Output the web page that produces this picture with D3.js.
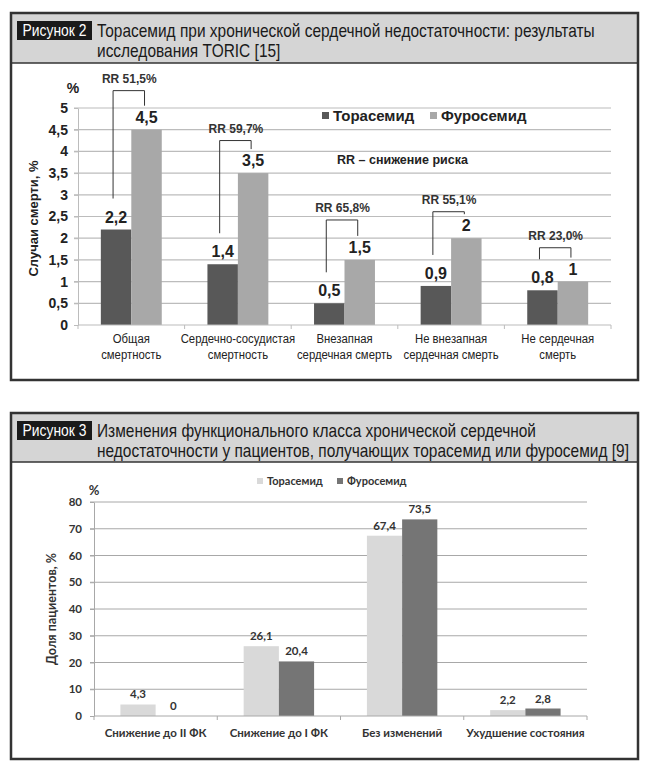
<!DOCTYPE html>
<html>
<head>
<meta charset="utf-8">
<script src="https://cdn.jsdelivr.net/npm/d3@7"></script>
<style>
  html, body { margin: 0; padding: 0; background: #fff; }
</style>
</head>
<body>
<div id="chart"></div>
<script>
// ---- Рисунок 2: TORIC ----
const cats1 = [
  ['Общая', 'смертность'],
  ['Сердечно-сосудистая', 'смертность'],
  ['Внезапная', 'сердечная смерть'],
  ['Не внезапная', 'сердечная смерть'],
  ['Не сердечная', 'смерть']
];
const series1 = ['Торасемид', 'Фуросемид'];
const torasemid1 = [2.2, 1.4, 0.5, 0.9, 0.8];
const furosemid1 = [4.5, 3.5, 1.5, 2, 1];
const rrLabels = ['RR 51,5%', 'RR 59,7%', 'RR 65,8%', 'RR 55,1%', 'RR 23,0%'];
const rrLevel = [5.4, 4.25, 2.42, 2.61, 1.78]; // bracket top, chart units
const yTicks1 = [0, 0.5, 1, 1.5, 2, 2.5, 3, 3.5, 4, 4.5, 5];

// ---- Рисунок 3: функциональный класс ----
const cats2 = ['Снижение до II ФК', 'Снижение до I ФК', 'Без изменений', 'Ухудшение состояния'];
const series2 = ['Торасемид', 'Фуросемид'];
const torasemid2 = [4.3, 26.1, 67.4, 2.2];
const furosemid2 = [0, 20.4, 73.5, 2.8];
const yTicks2 = [0, 10, 20, 30, 40, 50, 60, 70, 80];

const W = 647, H = 770;
const arial = "'Liberation Sans', Arial, sans-serif";
const calibri = "Lato, 'Open Sans', sans-serif";
const comma = d => String(d).replace('.', ',');

// no condensed face installed: squeeze Arial horizontally instead
function squeeze(sel, k) {
  sel.each(function () {
    const t = d3.select(this);
    const x = +t.attr('x') || 0, y = +t.attr('y') || 0;
    t.attr('x', 0).attr('y', 0).attr('transform', `translate(${x},${y}) scale(${k},1)`);
  });
}

const svg = d3.select('#chart').append('svg')
  .attr('width', W).attr('height', H)
  .attr('viewBox', `0 0 ${W} ${H}`);

/**
 * Frame, grey header band, black "Рисунок N" tag and title lines.
 */
function drawPanel(top, bottom, headBottom, tag, lines) {
  const g = svg.append('g').attr('font-family', arial);
  g.append('rect')
    .attr('x', 11).attr('y', top).attr('width', 627).attr('height', headBottom - top)
    .attr('fill', '#d5d5d5');
  g.append('line')
    .attr('x1', 11).attr('x2', 638).attr('y1', headBottom).attr('y2', headBottom)
    .attr('stroke', '#333').attr('stroke-width', 1.5);
  g.append('rect')
    .attr('x', 11).attr('y', top).attr('width', 627).attr('height', bottom - top)
    .attr('fill', 'none').attr('stroke', '#333').attr('stroke-width', 2.5);
  g.append('rect')
    .attr('x', 17).attr('y', top + 8).attr('width', 75).attr('height', 19)
    .attr('fill', '#1a1a1a');
  g.append('text')
    .attr('x', 54.5).attr('y', top + 23)
    .attr('text-anchor', 'middle')
    .attr('fill', '#fff').attr('font-size', 16.5)
    .text(tag)
    .call(squeeze, 0.84);
  g.selectAll('.title')
    .data(lines)
    .join('text')
    .attr('x', 97).attr('y', (d, i) => top + 24 + i * 20)
    .attr('fill', '#1a1a1a').attr('font-size', 18)
    .text(d => d)
    .call(squeeze, 0.86);
}

drawPanel(13, 380, 63, 'Рисунок 2',
  ['Торасемид при хронической сердечной недостаточности: результаты',
   'исследования TORIC [15]']);
drawPanel(413, 759, 462, 'Рисунок 3',
  ['Изменения функционального класса хронической сердечной',
   'недостаточности у пациентов, получающих торасемид или фуросемид [9]']);

// ================= Chart 1 =================
(function () {
  const x = d3.scaleBand().domain(d3.range(cats1.length)).range([78, 611]);
  const xs = d3.scaleBand().domain(series1).range([0, x.bandwidth()]).paddingOuter(0.75);
  const y = d3.scaleLinear().domain([0, 5]).range([325, 108]);
  const colors = { 'Торасемид': '#585858', 'Фуросемид': '#a8a8a8' };
  const rows = cats1.map((c, i) => ({ i, c, v: [torasemid1[i], furosemid1[i]] }));
  const g = svg.append('g').attr('font-family', arial);

  // grid
  g.append('g').selectAll('line')
    .data(yTicks1.filter(d => d > 0))
    .join('line')
    .attr('x1', 74).attr('x2', 611)
    .attr('y1', d => y(d)).attr('y2', d => y(d))
    .attr('stroke', '#bcbcbc').attr('stroke-width', 1.2);

  // y axis
  const ya = g.append('g').attr('transform', 'translate(78,0)')
    .call(d3.axisLeft(y).tickValues(yTicks1).tickFormat(comma).tickSize(4).tickSizeOuter(0));
  ya.select('.domain').attr('stroke', '#bcbcbc');
  ya.selectAll('line').attr('stroke', '#bcbcbc');
  ya.selectAll('text')
    .attr('font-family', arial).attr('font-size', 14).attr('font-weight', 'bold')
    .attr('fill', '#222').attr('x', -10);

  g.append('text').attr('x', 73).attr('y', 93).attr('text-anchor', 'middle')
    .attr('font-size', 14).attr('font-weight', 'bold').attr('fill', '#222').text('%');

  g.append('text')
    .attr('transform', `translate(38,${(y(0) + y(5)) / 2 + 2}) rotate(-90)`)
    .attr('text-anchor', 'middle')
    .attr('font-size', 13).attr('font-weight', 'bold').attr('fill', '#222')
    .text('Случаи смерти, %');

  // bars
  const grp = g.append('g').selectAll('g')
    .data(rows).join('g')
    .attr('transform', d => `translate(${x(d.i)},0)`);
  grp.selectAll('rect')
    .data(d => series1.map((s, k) => ({ s, v: d.v[k] })))
    .join('rect')
    .attr('x', d => xs(d.s)).attr('width', xs.bandwidth())
    .attr('y', d => y(d.v)).attr('height', d => y(0) - y(d.v))
    .attr('fill', d => colors[d.s]);
  grp.selectAll('.val')
    .data(d => series1.map((s, k) => ({ s, v: d.v[k] })))
    .join('text')
    .attr('x', d => xs(d.s) + xs.bandwidth() / 2)
    .attr('y', d => y(d.v) - 7)
    .attr('text-anchor', 'middle')
    .attr('font-size', 16).attr('font-weight', 'bold').attr('fill', '#222')
    .text(d => comma(d.v));

  // x axis
  const xa = g.append('g').attr('transform', `translate(0,${y(0)})`);
  xa.append('line').attr('x1', 78).attr('x2', 611).attr('stroke', '#bcbcbc').attr('stroke-width', 1.2);
  xa.selectAll('.tk')
    .data(d3.range(cats1.length + 1))
    .join('line')
    .attr('x1', d => 78 + d * x.step()).attr('x2', d => 78 + d * x.step())
    .attr('y1', 0).attr('y2', 4)
    .attr('stroke', '#bcbcbc');
  xa.selectAll('.cat')
    .data(rows).join('text')
    .attr('transform', d => `translate(${x(d.i) + x.bandwidth() / 2},18) scale(0.84,1)`)
    .attr('text-anchor', 'middle')
    .attr('font-size', 13.5).attr('fill', '#222')
    .selectAll('tspan')
    .data(d => d.c)
    .join('tspan')
    .attr('x', 0)
    .attr('y', (d, k) => k * 16)
    .text(d => d);

  // RR brackets
  const br = g.append('g').selectAll('g').data(rows).join('g');
  br.append('path')
    .attr('fill', 'none').attr('stroke', '#333').attr('stroke-width', 1)
    .attr('d', d => {
      const x0 = x(d.i) + xs(series1[0]) + xs.bandwidth() / 2 - 3;
      const x1 = x(d.i) + xs(series1[1]) + xs.bandwidth() / 2 - 2;
      const top = y(rrLevel[d.i]);
      return `M${x0},${y(d.v[0]) - 31}V${top}H${x1}V${y(d.v[1]) - 24}`;
    });
  br.append('text')
    .attr('x', d => x(d.i) + x.bandwidth() / 2 - 2)
    .attr('y', d => y(rrLevel[d.i]) - 8)
    .attr('text-anchor', 'middle')
    .attr('font-size', 12).attr('font-weight', 'bold').attr('fill', '#333')
    .text(d => rrLabels[d.i]);

  // legend
  const lg = g.append('g').attr('transform', 'translate(322,116)');
  const lx = [0, 108];
  series1.forEach((s, k) => {
    lg.append('rect').attr('x', lx[k]).attr('y', -4).attr('width', 7).attr('height', 7).attr('fill', colors[s]);
    lg.append('text').attr('x', lx[k] + 11).attr('y', 5)
      .attr('font-size', 15).attr('font-weight', 'bold').attr('fill', '#222').text(s);
  });
  g.append('text').attr('x', 337).attr('y', 164)
    .attr('font-size', 12.5).attr('font-weight', 'bold').attr('fill', '#222')
    .text('RR – снижение риска');
})();

// ================= Chart 2 =================
(function () {
  const x = d3.scaleBand().domain(cats2).range([94, 587]);
  const xs = d3.scaleBand().domain(series2).range([0, x.bandwidth()]).paddingOuter(0.75);
  const y = d3.scaleLinear().domain([0, 80]).range([716, 502]);
  const colors = { 'Торасемид': '#d9d9d9', 'Фуросемид': '#757575' };
  const rows = cats2.map((c, i) => ({ c, v: [torasemid2[i], furosemid2[i]] }));
  const g = svg.append('g').attr('font-family', calibri);

  g.append('g').selectAll('line')
    .data(yTicks2.filter(d => d > 0))
    .join('line')
    .attr('x1', 90).attr('x2', 587)
    .attr('y1', d => y(d)).attr('y2', d => y(d))
    .attr('stroke', '#a8a8a8').attr('stroke-width', 1);

  const ya = g.append('g').attr('transform', 'translate(94,0)')
    .call(d3.axisLeft(y).tickValues(yTicks2).tickSize(4).tickSizeOuter(0));
  ya.select('.domain').attr('stroke', '#a8a8a8');
  ya.selectAll('line').attr('stroke', '#a8a8a8');
  ya.selectAll('text')
    .attr('font-family', calibri).attr('font-size', 11.5).attr('font-weight', 'bold')
    .attr('fill', '#333').attr('x', -12);

  g.append('text').attr('x', 94).attr('y', 495).attr('text-anchor', 'middle')
    .attr('font-size', 13).attr('font-weight', 'bold').attr('fill', '#333').text('%');

  g.append('text')
    .attr('transform', `translate(56,${(y(0) + y(80)) / 2}) rotate(-90)`)
    .attr('text-anchor', 'middle')
    .attr('font-size', 12.5).attr('font-weight', 'bold').attr('fill', '#333')
    .text('Доля пациентов, %');

  const grp = g.append('g').selectAll('g')
    .data(rows).join('g')
    .attr('transform', d => `translate(${x(d.c)},0)`);
  grp.selectAll('rect')
    .data(d => series2.map((s, k) => ({ s, v: d.v[k] })))
    .join('rect')
    .attr('x', d => xs(d.s)).attr('width', xs.bandwidth())
    .attr('y', d => y(d.v)).attr('height', d => y(0) - y(d.v))
    .attr('fill', d => colors[d.s]);
  grp.selectAll('.val')
    .data(d => series2.map((s, k) => ({ s, v: d.v[k] })))
    .join('text')
    .attr('x', d => xs(d.s) + xs.bandwidth() / 2)
    .attr('y', d => y(d.v) - 6)
    .attr('text-anchor', 'middle')
    .attr('font-size', 11.5).attr('font-weight', 'bold').attr('fill', '#333')
    .text(d => comma(d.v));

  const xa = g.append('g').attr('transform', `translate(0,${y(0)})`);
  xa.append('line').attr('x1', 94).attr('x2', 587).attr('stroke', '#a8a8a8');
  xa.selectAll('.tk')
    .data(d3.range(cats2.length + 1))
    .join('line')
    .attr('x1', d => 94 + d * x.step()).attr('x2', d => 94 + d * x.step())
    .attr('y1', 0).attr('y2', 4)
    .attr('stroke', '#a8a8a8');
  xa.selectAll('.cat')
    .data(cats2).join('text')
    .attr('x', d => x(d) + x.bandwidth() / 2)
    .attr('y', 21)
    .attr('text-anchor', 'middle')
    .attr('font-size', 11.5).attr('font-weight', 'bold').attr('fill', '#333')
    .text(d => d);

  const lg = g.append('g').attr('transform', 'translate(257,481)');
  const lx = [0, 80];
  series2.forEach((s, k) => {
    lg.append('rect').attr('x', lx[k]).attr('y', -3).attr('width', 6).attr('height', 6).attr('fill', colors[s]);
    lg.append('text').attr('x', lx[k] + 10).attr('y', 4)
      .attr('font-size', 11).attr('font-weight', 'bold').attr('fill', '#333').text(s);
  });
})();
</script>
</body>
</html>
